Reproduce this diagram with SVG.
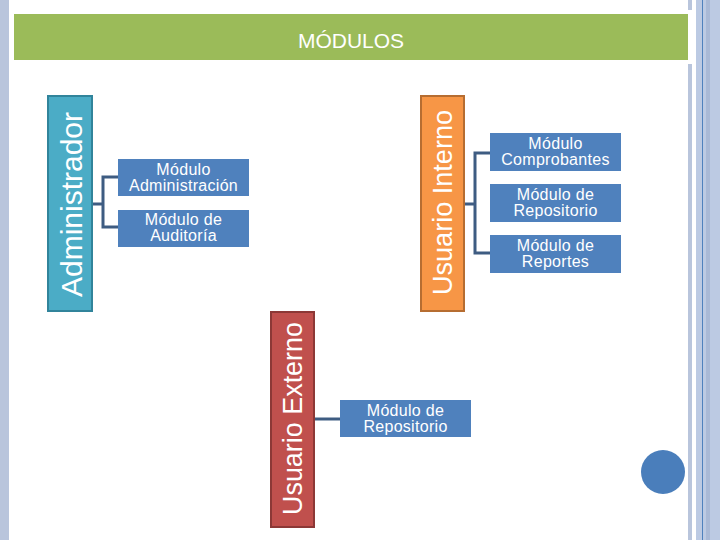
<svg xmlns="http://www.w3.org/2000/svg" width="720" height="540" viewBox="0 0 720 540">
<style>
.t{font-family:"Liberation Sans",Arial,sans-serif;fill:#ffffff}
.m{font-size:16px;text-anchor:middle;letter-spacing:0.3px}
.mod{fill:#4f81bd}
.v{text-anchor:middle}
.c{fill:none;stroke:#3e5c82;stroke-width:3}
</style>
<rect width="720" height="540" fill="#ffffff"/>
<g id="frame">
<rect x="0" y="0" width="9" height="540" fill="#b9c5dc"/>
<rect x="688" y="0" width="4" height="10" fill="#b9c5dc"/>
<rect x="688" y="64" width="4" height="476" fill="#b9c5dc"/>
<rect x="696" y="0" width="24" height="540" fill="#bccae3"/>
<rect x="706" y="0" width="4" height="540" fill="#a9b9d6"/>
<rect x="702" y="0" width="1" height="540" fill="#4f81bd"/>
<circle cx="663" cy="472" r="22" fill="#4a7ebb"/>
</g>
<g id="title">
<rect x="14" y="14" width="674" height="46" fill="#9bbb59"/>
<text class="t" x="351" y="48" font-size="21" text-anchor="middle">MÓDULOS</text>
</g>
<g id="connectors">
<path class="c" d="M92 204H103M118 177H103V227H118"/>
<path class="c" d="M464 204H475M490 153H475V253H490"/>
<path class="c" d="M314 419H340"/>
</g>
<g id="administrador">
<rect x="48" y="96" width="44" height="215" fill="#4bacc6" stroke="#31849b" stroke-width="2"/>
<text class="t v" font-size="30" transform="translate(82 204.5) rotate(-90)" textLength="185" lengthAdjust="spacingAndGlyphs">Administrador</text>
</g>
<g id="usuario-interno">
<rect x="421" y="96" width="43" height="215" fill="#f79646" stroke="#b66d31" stroke-width="2"/>
<text class="t v" font-size="27" transform="translate(452 202.5) rotate(-90)" textLength="185" lengthAdjust="spacingAndGlyphs">Usuario Interno</text>
</g>
<g id="usuario-externo">
<rect x="271" y="312" width="43" height="215" fill="#c0504d" stroke="#8c3836" stroke-width="2"/>
<text class="t v" font-size="27" transform="translate(302 418.5) rotate(-90)" textLength="193" lengthAdjust="spacingAndGlyphs">Usuario Externo</text>
</g>
<g id="mod-administracion">
<rect class="mod" x="118" y="159" width="131" height="37"/>
<text class="t m" x="183.5" y="174.5">Módulo</text>
<text class="t m" x="183.5" y="190.5">Administración</text>
</g>
<g id="mod-auditoria">
<rect class="mod" x="118" y="210" width="131" height="37"/>
<text class="t m" x="183.5" y="225">Módulo de</text>
<text class="t m" x="183.5" y="241">Auditoría</text>
</g>
<g id="mod-comprobantes">
<rect class="mod" x="490" y="133" width="131" height="38"/>
<text class="t m" x="555.5" y="149">Módulo</text>
<text class="t m" x="555.5" y="165">Comprobantes</text>
</g>
<g id="mod-repositorio-int">
<rect class="mod" x="490" y="184" width="131" height="38"/>
<text class="t m" x="555.5" y="200">Módulo de</text>
<text class="t m" x="555.5" y="216">Repositorio</text>
</g>
<g id="mod-reportes">
<rect class="mod" x="490" y="235" width="131" height="38"/>
<text class="t m" x="555.5" y="251">Módulo de</text>
<text class="t m" x="555.5" y="267">Reportes</text>
</g>
<g id="mod-repositorio-ext">
<rect class="mod" x="340" y="400" width="131" height="37"/>
<text class="t m" x="405.5" y="415.5">Módulo de</text>
<text class="t m" x="405.5" y="431.5">Repositorio</text>
</g>
</svg>
